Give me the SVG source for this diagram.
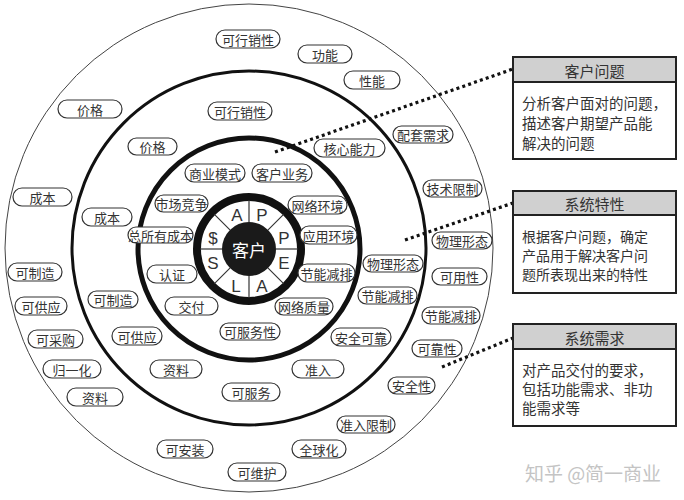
<svg xmlns="http://www.w3.org/2000/svg" width="684" height="500" viewBox="0 0 684 500">
<style>
.p rect{fill:#fff;stroke:#333;stroke-width:1.2}
.p text,.t{font-family:"Noto Sans CJK SC","Noto Sans",sans-serif;font-size:13px;fill:#333;text-anchor:middle;dominant-baseline:central}
.l{font-family:"Liberation Sans","DejaVu Sans",sans-serif;font-size:17px;fill:#333;text-anchor:middle;dominant-baseline:central}
.hd{font-family:"Noto Sans CJK SC",sans-serif;font-size:15px;fill:#333;text-anchor:middle;dominant-baseline:central}
.bd{font-family:"Noto Sans CJK SC",sans-serif;font-size:14.5px;fill:#333}
.bd2{font-family:"Noto Sans CJK SC",sans-serif;font-size:14px;fill:#333}
.dot{stroke:#111;stroke-width:3.2;stroke-dasharray:3 3.2;fill:none}
</style>
<rect width="684" height="500" fill="#fff"/>
<g id="rings" fill="none" stroke="#111">
<circle cx="249" cy="248" r="244" stroke-width="1" stroke="#444"/>
<circle cx="249" cy="248" r="177" stroke-width="3"/>
<circle cx="249" cy="249" r="111" stroke-width="5"/>
<circle cx="249" cy="249" r="52" stroke-width="8"/>
</g>
<g id="core">
<circle cx="249" cy="249" r="27" fill="#1a1a1a"/>
<g stroke="#333" stroke-width="1.2">
<line x1="249" y1="222" x2="249" y2="200"/>
<line x1="249" y1="276" x2="249" y2="298"/>
<line x1="222" y1="249" x2="200" y2="249"/>
<line x1="276" y1="249" x2="298" y2="249"/>
<line x1="268.1" y1="229.9" x2="283.6" y2="214.4"/>
<line x1="229.9" y1="229.9" x2="214.4" y2="214.4"/>
<line x1="268.1" y1="268.1" x2="283.6" y2="283.6"/>
<line x1="229.9" y1="268.1" x2="214.4" y2="283.6"/>
</g>
<text x="249" y="249" style="font-family:'Noto Sans CJK SC',sans-serif;font-size:17px;fill:#fff;text-anchor:middle;dominant-baseline:central">客户</text>
<text class="l" x="237" y="215">A</text>
<text class="l" x="262" y="215">P</text>
<text class="l" x="284" y="238">P</text>
<text class="l" x="284" y="263">E</text>
<text class="l" x="262" y="286">A</text>
<text class="l" x="236" y="286">L</text>
<text class="l" x="213" y="263">S</text>
<text class="l" x="213" y="238">$</text>
</g>
<g id="connectors">
<line class="dot" x1="275" y1="152" x2="513" y2="69"/>
<line class="dot" x1="405" y1="240" x2="513" y2="203"/>
<line class="dot" x1="442" y1="367" x2="513" y2="338"/>
</g>
<g id="box1">
<rect x="513" y="57" width="163" height="102" fill="#fff" stroke="#222" stroke-width="2"/>
<rect x="513" y="57" width="163" height="25" fill="#d0d0d0" stroke="#222" stroke-width="2"/>
<text class="hd" x="594.5" y="70">客户问题</text>
<text class="bd" x="522" y="109">分析客户面对的问题，</text>
<text class="bd" x="522" y="129">描述客户期望产品能</text>
<text class="bd" x="522" y="149">解决的问题</text>
</g>
<g id="box2">
<rect x="513" y="191" width="163" height="102" fill="#fff" stroke="#222" stroke-width="2"/>
<rect x="513" y="191" width="163" height="24" fill="#d0d0d0" stroke="#222" stroke-width="2"/>
<text class="hd" x="594.5" y="203">系统特性</text>
<text class="bd2" x="522" y="242">根据客户问题，确定</text>
<text class="bd2" x="522" y="261">产品用于解决客户问</text>
<text class="bd2" x="522" y="280">题所表现出来的特性</text>
</g>
<g id="box3">
<rect x="513" y="324" width="163" height="102" fill="#fff" stroke="#222" stroke-width="2"/>
<rect x="513" y="324" width="163" height="25" fill="#d0d0d0" stroke="#222" stroke-width="2"/>
<text class="hd" x="594.5" y="337">系统需求</text>
<text class="bd" x="522" y="376">对产品交付的要求，</text>
<text class="bd" x="522" y="395">包括功能需求、非功</text>
<text class="bd" x="522" y="414">能需求等</text>
</g>
<g id="outer-labels">
<g class="p" id="o1"><rect x="216" y="30" width="64" height="18" rx="9"/><text x="248" y="39">可行销性</text></g>
<g class="p" id="o2"><rect x="298" y="45" width="54" height="18" rx="9"/><text x="325" y="54">功能</text></g>
<g class="p" id="o3"><rect x="344" y="71" width="56" height="18" rx="9"/><text x="372" y="80">性能</text></g>
<g class="p" id="o4"><rect x="393" y="126" width="60" height="17" rx="8.5"/><text x="423" y="134.5">配套需求</text></g>
<g class="p" id="o5"><rect x="423" y="180" width="59" height="17" rx="8.5"/><text x="452.5" y="188.5">技术限制</text></g>
<g class="p" id="o6"><rect x="432" y="232" width="60" height="17" rx="8.5"/><text x="462" y="240.5">物理形态</text></g>
<g class="p" id="o7"><rect x="432" y="268" width="55" height="17" rx="8.5"/><text x="459.5" y="276.5">可用性</text></g>
<g class="p" id="o8"><rect x="422" y="307" width="58" height="17" rx="8.5"/><text x="451" y="315.5">节能减排</text></g>
<g class="p" id="o9"><rect x="412" y="340" width="50" height="17" rx="8.5"/><text x="437" y="348.5">可靠性</text></g>
<g class="p" id="o10"><rect x="388" y="377" width="47" height="17" rx="8.5"/><text x="411.5" y="385.5">安全性</text></g>
<g class="p" id="o11"><rect x="337" y="416" width="58" height="17" rx="8.5"/><text x="366" y="424.5">准入限制</text></g>
<g class="p" id="o12"><rect x="292" y="440" width="54" height="18" rx="9"/><text x="319" y="449">全球化</text></g>
<g class="p" id="o13"><rect x="228" y="463" width="58" height="18" rx="9"/><text x="257" y="472">可维护</text></g>
<g class="p" id="o14"><rect x="157" y="440" width="56" height="18" rx="9"/><text x="185" y="449">可安装</text></g>
<g class="p" id="o15"><rect x="67" y="388" width="56" height="18" rx="9"/><text x="95" y="397">资料</text></g>
<g class="p" id="o16"><rect x="43" y="360" width="58" height="18" rx="9"/><text x="72" y="369">归一化</text></g>
<g class="p" id="o17"><rect x="28" y="330" width="55" height="18" rx="9"/><text x="55.5" y="339">可采购</text></g>
<g class="p" id="o18"><rect x="15" y="297" width="52" height="18" rx="9"/><text x="41" y="306">可供应</text></g>
<g class="p" id="o19"><rect x="8" y="263" width="54" height="18" rx="9"/><text x="35" y="272">可制造</text></g>
<g class="p" id="o20"><rect x="13" y="188" width="59" height="18" rx="9"/><text x="42.5" y="197">成本</text></g>
<g class="p" id="o21"><rect x="58" y="100" width="64" height="18" rx="9"/><text x="90" y="109">价格</text></g>
</g>
<g id="middle-labels">
<g class="p" id="m1"><rect x="208" y="102" width="64" height="18" rx="9"/><text x="240" y="111">可行销性</text></g>
<g class="p" id="m2"><rect x="128" y="138" width="49" height="17" rx="8.5"/><text x="152.5" y="146.5">价格</text></g>
<g class="p" id="m3"><rect x="314" y="139" width="71" height="18" rx="9"/><text x="349.5" y="148">核心能力</text></g>
<g class="p" id="m4"><rect x="82" y="208" width="50" height="18" rx="9"/><text x="107" y="217">成本</text></g>
<g class="p" id="m5"><rect x="88" y="291" width="50" height="17" rx="8.5"/><text x="113" y="299.5">可制造</text></g>
<g class="p" id="m6"><rect x="112" y="327" width="50" height="18" rx="9"/><text x="137" y="336">可供应</text></g>
<g class="p" id="m7"><rect x="150" y="360" width="52" height="18" rx="9"/><text x="176" y="369">资料</text></g>
<g class="p" id="m8"><rect x="222" y="383" width="58" height="18" rx="9"/><text x="251" y="392">可服务</text></g>
<g class="p" id="m9"><rect x="292" y="360" width="52" height="18" rx="9"/><text x="318" y="369">准入</text></g>
<g class="p" id="m10"><rect x="363" y="255" width="60" height="17" rx="8.5"/><text x="393" y="263.5">物理形态</text></g>
<g class="p" id="m11"><rect x="358" y="287" width="59" height="17" rx="8.5"/><text x="387.5" y="295.5">节能减排</text></g>
<g class="p" id="m12"><rect x="331" y="328" width="60" height="18" rx="9"/><text x="361" y="337">安全可靠</text></g>
</g>
<g id="inner-labels">
<g class="p" id="i1"><rect x="185" y="164" width="60" height="18" rx="9"/><text x="215" y="173">商业模式</text></g>
<g class="p" id="i2"><rect x="252" y="164" width="60" height="18" rx="9"/><text x="282" y="173">客户业务</text></g>
<g class="p" id="i3"><rect x="155" y="195" width="53" height="17" rx="8.5"/><text x="181.5" y="203.5">市场竞争</text></g>
<g class="p" id="i4"><rect x="288" y="196" width="59" height="18" rx="9"/><text x="317.5" y="205">网络环境</text></g>
<g class="p" id="i5"><rect x="128" y="227" width="65" height="16" rx="8"/><text x="160.5" y="235">总所有成本</text></g>
<g class="p" id="i6"><rect x="300" y="226" width="57" height="18" rx="9"/><text x="328.5" y="235">应用环境</text></g>
<g class="p" id="i7"><rect x="147" y="265" width="50" height="18" rx="9"/><text x="172" y="274">认证</text></g>
<g class="p" id="i8"><rect x="298" y="264" width="57" height="18" rx="9"/><text x="326.5" y="273">节能减排</text></g>
<g class="p" id="i9"><rect x="165" y="297" width="53" height="18" rx="9"/><text x="191.5" y="306">交付</text></g>
<g class="p" id="i10"><rect x="275" y="298" width="58" height="17" rx="8.5"/><text x="304" y="306.5">网络质量</text></g>
<g class="p" id="i11"><rect x="220" y="323" width="60" height="17" rx="8.5"/><text x="250" y="331.5">可服务性</text></g>
</g>
<text x="593" y="472" style="font-family:'Noto Sans CJK SC',sans-serif;font-size:19px;fill:#c4c4c4;text-anchor:middle;dominant-baseline:central">知乎 @简一商业</text>
</svg>
